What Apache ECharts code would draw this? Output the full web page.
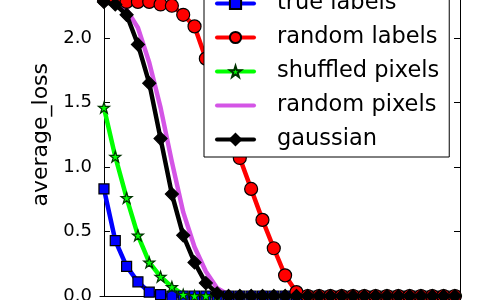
<!DOCTYPE html>
<html>
<head>
<meta charset="utf-8">
<script src="https://cdn.jsdelivr.net/npm/echarts@6/dist/echarts.min.js"></script>
<style>html,body{margin:0;padding:0;background:#fff;}#c{width:480px;height:300px;}</style>
</head>
<body>
<div id="c"></div>
<script>
const steps = [0,1,2,3,4,5,6,7,8,9,10,11,12,13,14,15,16,17,18,19,20,21,22,23,24,25,26,27,28,29,30,31];
const trueLabels = [0.83,0.43,0.23,0.11,0.03,0.01,0,0,0,0,0,0,0,0,0,0,0,0,0,0,0,0,0,0,0,0,0,0,0,0,0,0];
const randomLabels = [2.30,2.30,2.28,2.28,2.28,2.26,2.25,2.18,2.09,1.84,1.58,1.32,1.07,0.83,0.59,0.37,0.16,0.03,0,0,0,0,0,0,0,0,0,0,0,0,0,0];
const shuffledPixels = [1.46,1.08,0.76,0.47,0.26,0.15,0.07,0.01,0,0,0,0,0,0,0,0,0,0,0,0,0,0,0,0,0,0,0,0,0,0,0,0];
const randomPixels = [2.30,2.29,2.22,2.08,1.81,1.46,1.04,0.65,0.38,0.19,0.06,0.01,0,0,0,0,0,0,0,0,0,0,0,0,0,0,0,0,0,0,0,0];
const gaussian = [2.28,2.26,2.18,1.95,1.65,1.22,0.79,0.47,0.26,0.10,0.02,0,0,0,0,0,0,0,0,0,0,0,0,0,0,0,0,0,0,0,0,0];
const yTicks = [0, 0.5, 1.0, 1.5, 2.0, 2.5];
const seriesNames = ['true labels','random labels','shuffled pixels','random pixels','gaussian'];

const star = 'path://M50,0 L61.8,35.4 L98.9,35.4 L69,57.3 L80.3,92.7 L50,70.8 L19.7,92.7 L31,57.3 L1.1,35.4 L38.2,35.4 Z';
const pairs = arr => arr.map((v, i) => [steps[i], v]);
const F = 'DejaVu Sans';
function mk(name, data, color, symbol, size, extra) {
  return Object.assign({
    name, type: 'line', data: pairs(data),
    symbol, symbolSize: size, showSymbol: true,
    lineStyle: { color, width: 4.5, cap: 'round', join: 'round' },
    itemStyle: { color, borderColor: '#000', borderWidth: 1.2 },
    emphasis: { disabled: true }, animation: false, z: 2
  }, extra || {});
}
const chart = echarts.init(document.getElementById('c'), null, { renderer: 'canvas' });
chart.setOption({
  backgroundColor: '#ffffff',
  animation: false,
  grid: { left: 100, right: 20, top: -26.5, bottom: 4, containLabel: false, outerBoundsMode: 'none' },
  xAxis: {
    type: 'value', min: -0.35, max: 31.45,
    axisLine: { show: true, lineStyle: { color: '#000', width: 1 } },
    axisTick: { show: false }, axisLabel: { show: false }, splitLine: { show: false }
  },
  yAxis: [{
    type: 'value', min: 0, max: 2.5, interval: 0.5,
    name: 'average_loss', nameLocation: 'middle', nameGap: 48,
    nameTextStyle: { fontFamily: F, fontSize: 22, color: '#000' },
    axisLine: { show: true, lineStyle: { color: '#000', width: 1 } },
    axisTick: { show: true, inside: true, length: 6, lineStyle: { color: '#000' } },
    axisLabel: { fontFamily: F, fontSize: 18, color: '#000', margin: 8,
      formatter: v => yTicks.includes(v) ? v.toFixed(1) : '' },
    splitLine: { show: false }
  }, {
    type: 'value', min: 0, max: 2.5, interval: 0.5, position: 'right',
    axisLine: { show: true, lineStyle: { color: '#000', width: 1 } },
    axisTick: { show: true, inside: true, length: 6, lineStyle: { color: '#000' } },
    axisLabel: { show: false }, splitLine: { show: false }
  }],
  legend: {
    data: [
      { name: seriesNames[0] },
      { name: seriesNames[1] },
      { name: seriesNames[2] },
      { name: seriesNames[3], itemStyle: { opacity: 0 } },
      { name: seriesNames[4] }
    ],
    orient: 'vertical', left: 204, top: -14,
    backgroundColor: '#ffffff', borderColor: '#000', borderWidth: 1, borderRadius: 0,
    padding: [6, 10, 6, 11],
    itemWidth: 37, itemHeight: 14, itemGap: 11,
    selectedMode: false,
    lineStyle: { width: 4 },
    textStyle: { fontFamily: F, fontSize: 22.5, color: '#000', lineHeight: 20, padding: [0, 0, 0, 18] },
    z: 10
  },
  series: [
    mk(seriesNames[0], trueLabels, '#0000ff', 'rect', 10),
    mk(seriesNames[1], randomLabels, '#ff0000', 'circle', 13),
    mk(seriesNames[2], shuffledPixels, '#00ff00', star, 11, { itemStyle: { color: '#00ff00', borderColor: '#003300', borderWidth: 1.2 } }),
    mk(seriesNames[3], randomPixels, '#d455e6', 'none', 0, { showSymbol: false }),
    mk(seriesNames[4], gaussian, '#000000', 'diamond', 13)
  ]
});
</script>
</body>
</html>
